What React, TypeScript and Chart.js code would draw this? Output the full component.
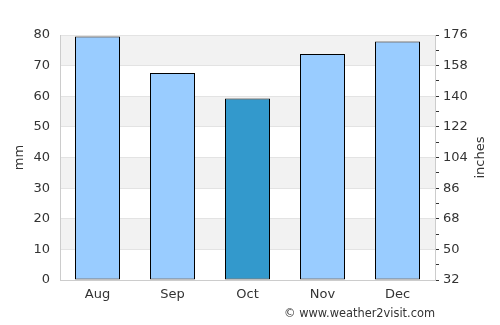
import React, { useEffect, useRef } from "react";
import { Chart, registerables } from "chart.js";

Chart.register(...registerables);

const months = ["Aug", "Sep", "Oct", "Nov", "Dec"];
const rainfallMm = [79.5, 67.6, 59.3, 73.8, 77.9];
const barColors = ["#99ccff", "#99ccff", "#3399cc", "#99ccff", "#99ccff"];
const leftTitle = "mm";
const rightTitle = "inches";
const credit = "© www.weather2visit.com";

const FONT = "'DejaVu Sans', sans-serif";
const TEXT = "#333333";

const decorPlugin = {
  id: "decor",
  beforeDraw(chart: any) {
    const { ctx, chartArea, scales } = chart;
    const y = scales.y;
    ctx.save();
    ctx.fillStyle = "#f2f2f2";
    for (let v = 10; v < 80; v += 20) {
      const top = y.getPixelForValue(v + 10);
      const bot = y.getPixelForValue(v);
      ctx.fillRect(chartArea.left, top, chartArea.right - chartArea.left, bot - top);
    }
    ctx.restore();
  },
  afterDraw(chart: any) {
    const { ctx, chartArea } = chart;
    ctx.save();
    ctx.fillStyle = TEXT;
    ctx.font = "13px " + FONT;
    ctx.textAlign = "center";
    ctx.textBaseline = "middle";
    const midY = (chartArea.top + chartArea.bottom) / 2;
    ctx.save();
    ctx.translate(20, midY);
    ctx.rotate(-Math.PI / 2);
    ctx.fillText(leftTitle, 0, 0);
    ctx.restore();
    ctx.save();
    ctx.translate(481, midY);
    ctx.rotate(-Math.PI / 2);
    ctx.fillText(rightTitle, 0, 0);
    ctx.restore();
    ctx.font = "11.4px " + FONT;
    ctx.textAlign = "right";
    ctx.textBaseline = "alphabetic";
    ctx.fillText(credit, 435, 317);
    ctx.restore();
  },
};

export default function App() {
  const ref = useRef<HTMLCanvasElement | null>(null);
  useEffect(() => {
    if (!ref.current) return;
    const chart = new Chart(ref.current, {
      type: "bar",
      data: {
        labels: months,
        datasets: [
          {
            data: rainfallMm,
            backgroundColor: barColors,
            borderColor: "#000000",
            borderWidth: 1,
            borderSkipped: false,
            barPercentage: 0.6,
            categoryPercentage: 1,
          },
        ],
      },
      options: {
        animation: false,
        responsive: false,
        maintainAspectRatio: false,
        layout: { padding: { top: 35, left: 0, right: 0, bottom: 0 } },
        plugins: { legend: { display: false }, tooltip: { enabled: false } },
        scales: {
          x: {
            grid: { display: false, drawTicks: false },
            border: { display: true, color: "#cccccc" },
            ticks: { color: TEXT, font: { family: FONT, size: 13 }, padding: 7 },
            afterFit: (s: any) => {
              s.height = 45;
            },
          },
          y: {
            position: "left",
            min: 0,
            max: 80,
            ticks: { stepSize: 10, color: TEXT, font: { family: FONT, size: 13 }, padding: 10 },
            grid: { color: "#e3e3e3", drawTicks: false },
            border: { display: true, color: "#cccccc" },
            afterFit: (s: any) => {
              s.width = 60;
            },
          },
          y2: {
            position: "right",
            min: 32,
            max: 176,
            ticks: {
              stepSize: 9,
              color: TEXT,
              font: { family: FONT, size: 13 },
              padding: 4,
              autoSkip: false,
              callback: (v: any) => (((Number(v) - 32) % 18 === 0) ? String(v) : ""),
            },
            grid: { drawOnChartArea: false, tickLength: 4, color: "#333333" },
            border: { display: true, color: "#cccccc" },
            afterFit: (s: any) => {
              s.width = 65;
            },
          },
        },
      },
      plugins: [decorPlugin],
    });
    return () => chart.destroy();
  }, []);
  return (
    <div style={{ position: "fixed", left: 0, top: 0, width: 500, height: 325, background: "#fff" }}>
      <canvas ref={ref} width={500} height={325} style={{ width: 500, height: 325 }} />
    </div>
  );
}
